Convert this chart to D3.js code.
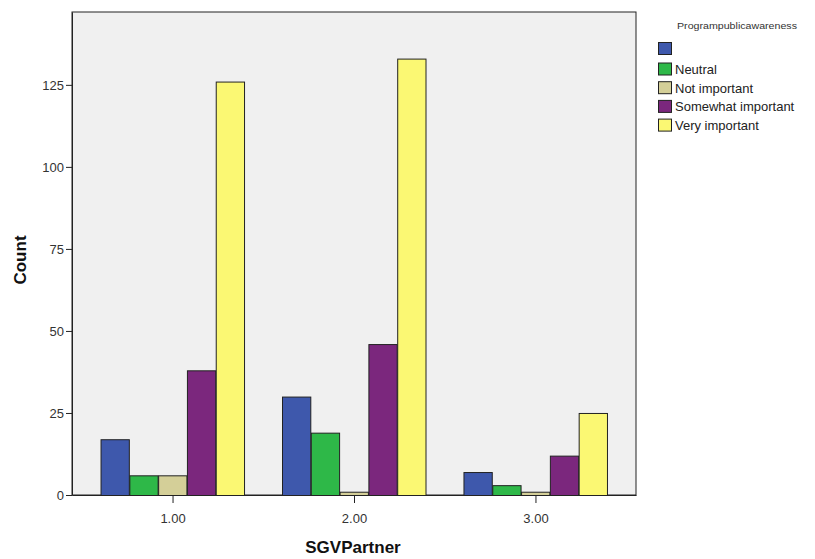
<!DOCTYPE html>
<html><head><meta charset="utf-8">
<script src="https://cdn.jsdelivr.net/npm/d3@7"></script>
<style>body{margin:0;background:#fff;} svg{display:block;font-family:"Liberation Sans",Arial,sans-serif;}</style>
</head><body><svg id="c" width="815" height="559"></svg>
<script>
const categories = ["1.00", "2.00", "3.00"];
const seriesNames = ["", "Neutral", "Not important", "Somewhat important", "Very important"];
const seriesColors = ["#3e58ac", "#2eb848", "#d4cf98", "#7b277d", "#fbf873"];
const values = {
  "":                  [17, 30, 7],
  "Neutral":           [6, 19, 3],
  "Not important":     [6, 1, 1],
  "Somewhat important":[38, 46, 12],
  "Very important":    [126, 133, 25]
};
const yTicks = [0, 25, 50, 75, 100, 125];

const svg = d3.select("#c");
const L = 72, R = 636, T = 12, B = 495;

const x = d3.scalePoint().domain(categories).range([L, R]).padding(0.554);
const inner = d3.scaleBand().domain(seriesNames).range([-72, 72]);
const y = d3.scaleLinear().domain([0, 147.2]).range([B, T]);

svg.append("rect").attr("x", L).attr("y", T).attr("width", R - L).attr("height", B - T)
  .attr("fill", "#f0f0f0").attr("stroke", "#222").attr("stroke-width", 1);

seriesNames.forEach((s, si) => {
  svg.append("g").selectAll("rect").data(values[s]).join("rect")
    .attr("x", (d, i) => x(categories[i]) + inner(s) + 0.5)
    .attr("y", d => y(d) + 0.5)
    .attr("width", inner.bandwidth() - 0.5)
    .attr("height", d => B - y(d))
    .attr("fill", seriesColors[si])
    .attr("stroke", "#222").attr("stroke-width", 1);
});

const yAxis = svg.append("g").attr("transform", `translate(${L},0)`)
  .call(d3.axisLeft(y).tickValues(yTicks).tickSize(6).tickSizeOuter(0).tickPadding(2));
const xAxis = svg.append("g").attr("transform", `translate(0,${B})`)
  .call(d3.axisBottom(x).tickSize(8).tickSizeOuter(0).tickPadding(11));
[yAxis, xAxis].forEach(a => {
  a.select(".domain").attr("stroke", "#222");
  a.selectAll(".tick line").attr("stroke", "#222");
  a.selectAll("text").attr("fill", "#333").attr("font-size", 13)
    .attr("font-family", '"Liberation Sans",Arial,sans-serif');
});

svg.append("text").attr("transform", "translate(26,260) rotate(-90)")
  .attr("text-anchor", "middle").attr("font-weight", "bold").attr("font-size", 17)
  .attr("fill", "#111").text("Count");
svg.append("text").attr("x", 353).attr("y", 553)
  .attr("text-anchor", "middle").attr("font-weight", "bold").attr("font-size", 17)
  .attr("fill", "#111").text("SGVPartner");

svg.append("text").attr("x", 677).attr("y", 29).attr("font-size", 9)
  .attr("fill", "#333").attr("textLength", 120).attr("lengthAdjust", "spacingAndGlyphs")
  .text("Programpublicawareness");
const rowY = i => i === 0 ? 48.5 : 69 + (i - 1) * 18.7;
const lg = svg.append("g").selectAll("g").data(seriesNames).join("g")
  .attr("transform", (d, i) => `translate(658,${rowY(i)})`);
lg.append("rect").attr("x", 0.5).attr("y", -6).attr("width", 13).attr("height", 12)
  .attr("fill", (d, i) => seriesColors[i]).attr("stroke", "#222");
lg.append("text").attr("x", 17).attr("y", 5).attr("font-size", 13).attr("fill", "#222").text(d => d);
</script></body></html>
